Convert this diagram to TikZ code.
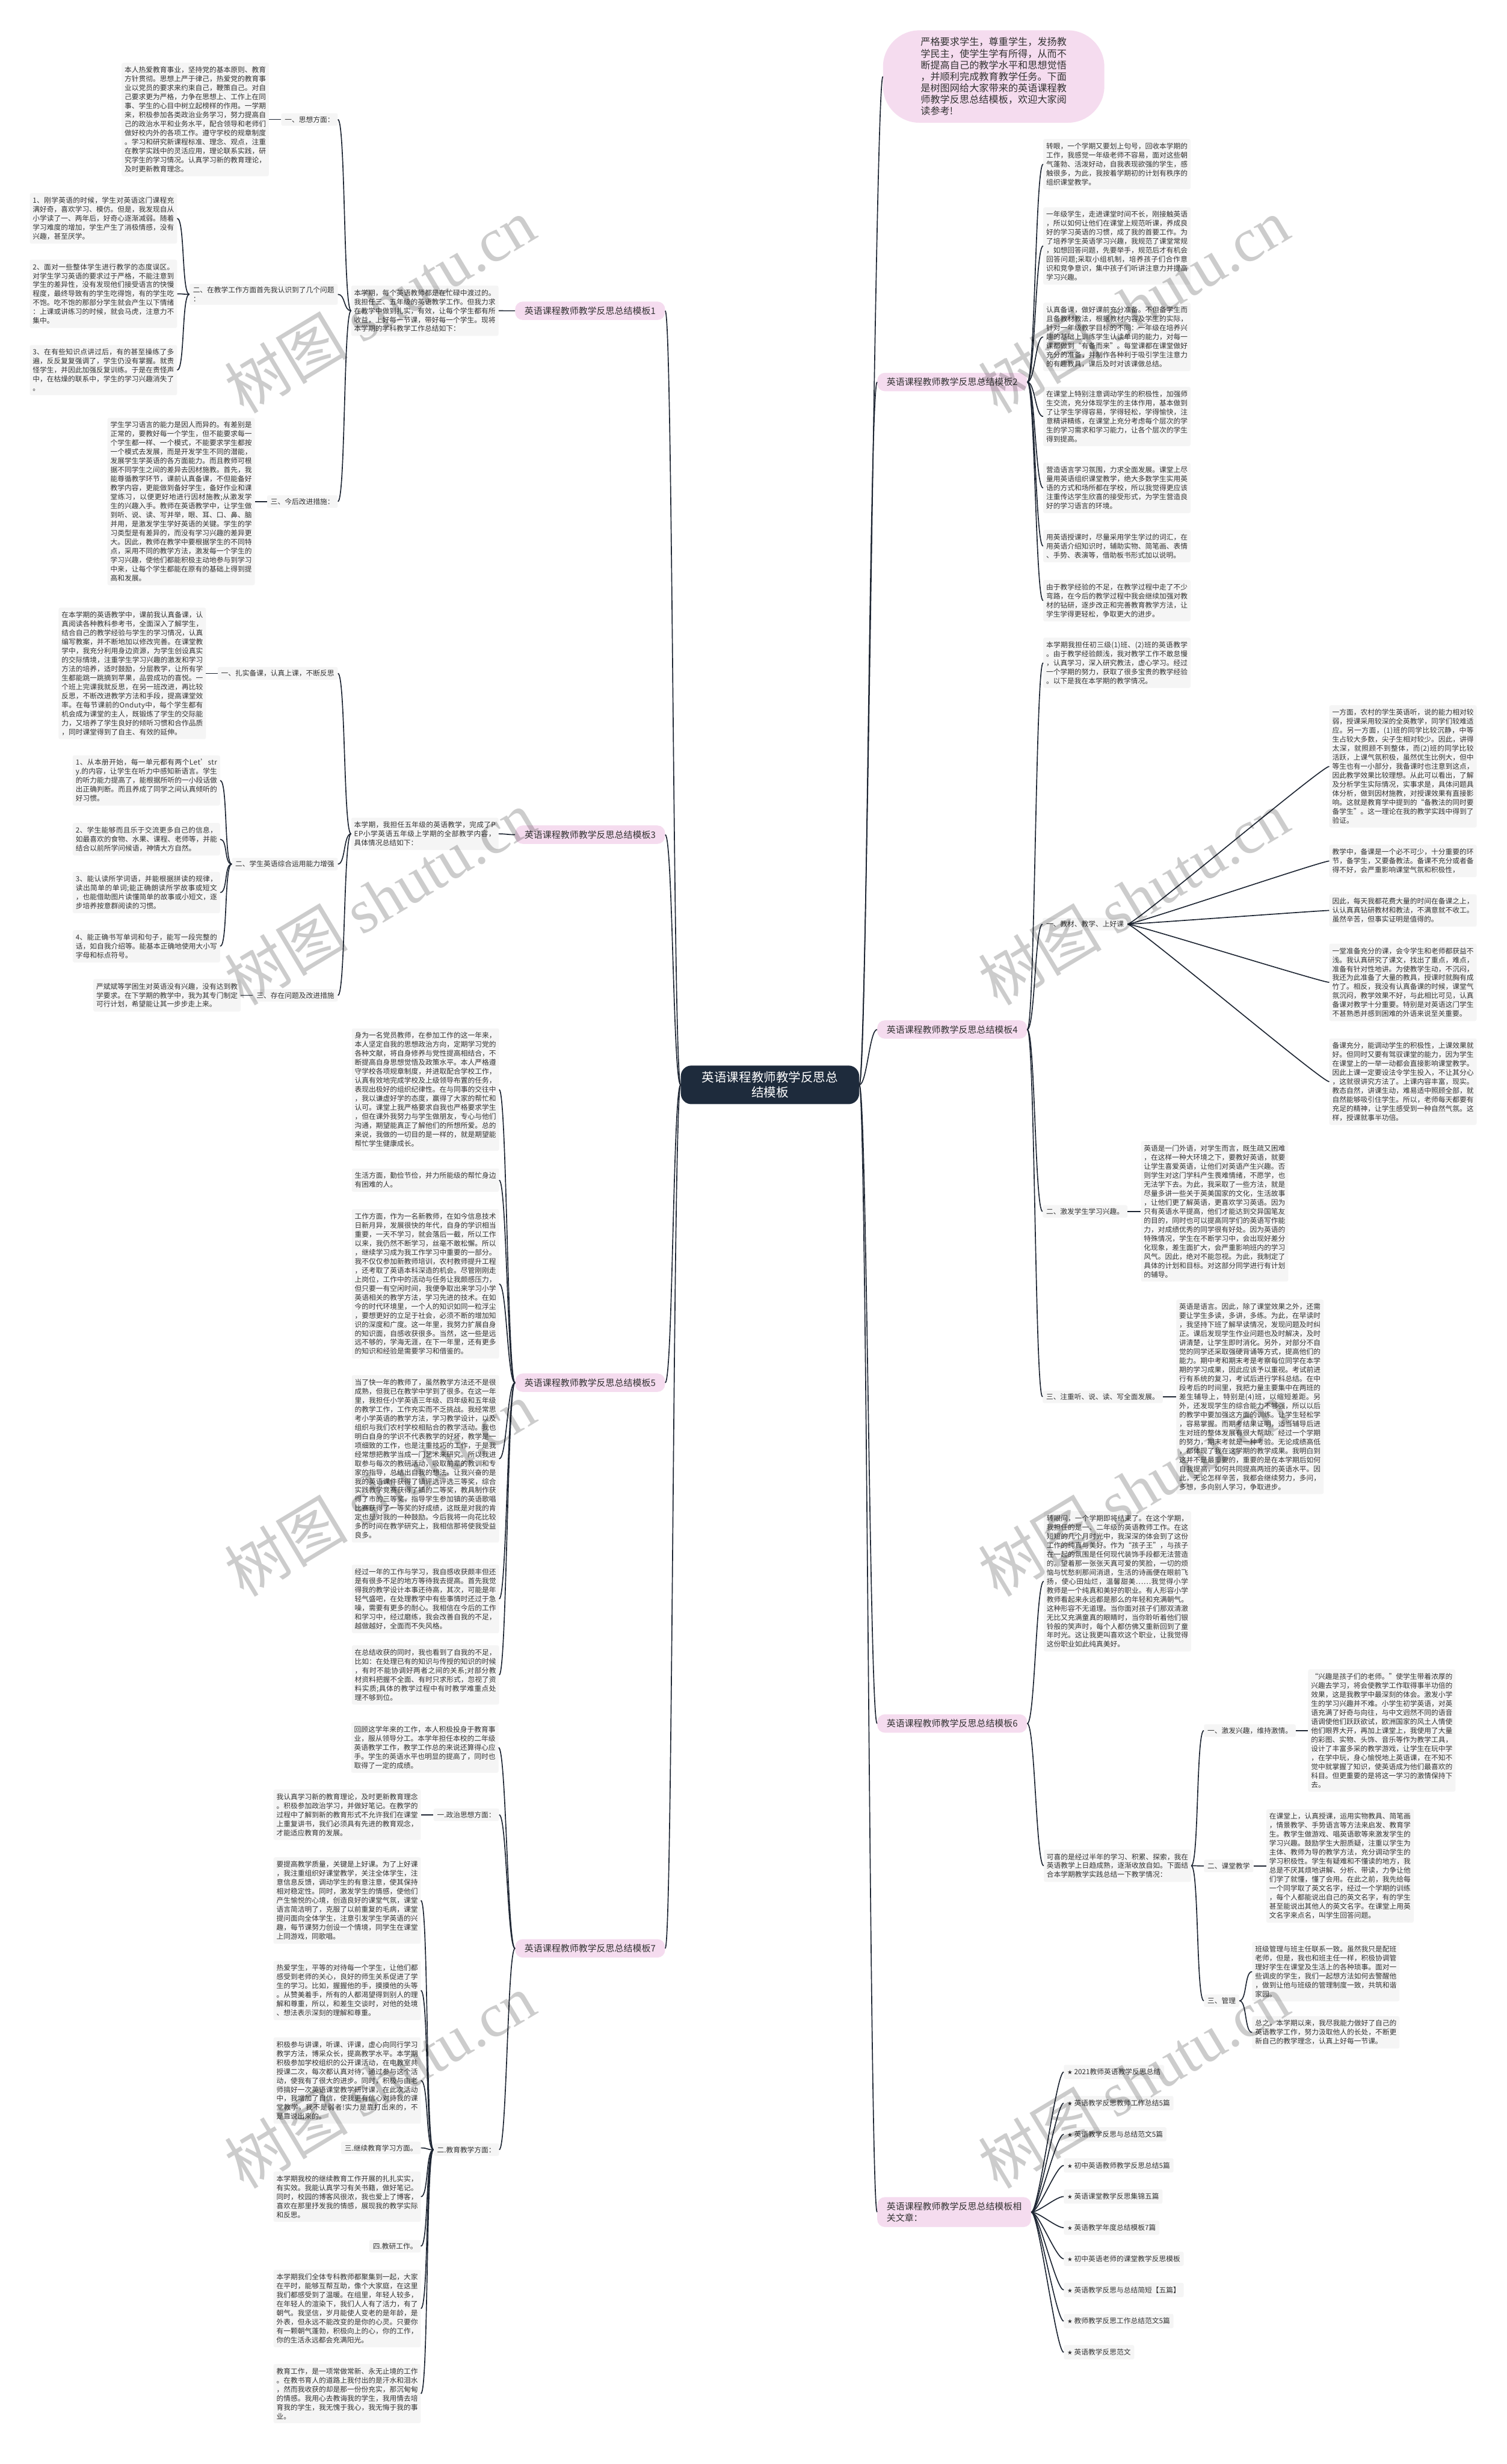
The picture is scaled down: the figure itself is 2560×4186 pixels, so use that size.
\documentclass[tikz,border=0pt]{standalone}
\usepackage{fontspec}
\setmainfont{Noto Sans CJK SC}
\newfontfamily\starfont{DejaVu Sans}
\newfontfamily\wmfont{Liberation Serif}

\definecolor{pinkfill}{HTML}{F5DCEF}
\definecolor{boxfill}{HTML}{F5F5F5}
\definecolor{inkline}{HTML}{1E2633}
\definecolor{navyfill}{HTML}{1E2B3C}
\definecolor{bodytext}{HTML}{333333}

% the reference breaks a line after any character, so allow a break everywhere
\def\chopend{chopend-marker}
\def\chop#1{\ifx\chopend#1\else#1\hskip0pt plus1pt\relax\expandafter\chop\fi}
\newcommand\para[1]{\chop#1\chopend}

\newcommand\joinleft[2]{\draw[linkline] (#1.west) .. controls +(-13,0) and +(13,0) .. (#2.east);}
\newcommand\joinright[2]{\draw[linkline] (#1.east) .. controls +(13,0) and +(-13,0) .. (#2.west);}

\begin{document}
\begin{tikzpicture}[
  x=1pt,y=-1pt,
  linkline/.style={draw=inkline,line width=1.7pt},
  rootbox/.style={fill=navyfill,text=white,rounded corners=18pt,align=center,
    inner xsep=36pt,inner ysep=10pt,font=\fontsize{21}{26}\selectfont},
  introbox/.style={fill=pinkfill,text=bodytext,rounded corners=62pt,text width=248pt,
    align=justify,inner xsep=64pt,inner ysep=12pt,font=\fontsize{16.5}{19.6}\selectfont},
  topicbox/.style={fill=pinkfill,text=bodytext,rounded corners=13pt,inner xsep=16pt,
    inner ysep=8.5pt,font=\fontsize{15.3}{19.6}\selectfont},
  headbox/.style={fill=boxfill,text=bodytext,rounded corners=3pt,align=left,
    inner xsep=6pt,inner ysep=5pt,font=\fontsize{12}{15.3}\selectfont},
  textblock/.style={fill=boxfill,text=bodytext,rounded corners=3pt,text width=240.2pt,
    align=justify,inner xsep=5pt,inner ysep=6.5pt,font=\fontsize{12}{15.3}\selectfont},
  listbox/.style={fill=boxfill,text=bodytext,rounded corners=3pt,inner xsep=6pt,
    inner ysep=6.5pt,font=\fontsize{12}{15.3}\selectfont},
  wmark/.style={rotate=31,text=black,opacity=0.2,font=\fontsize{105}{110}\selectfont}
]
\useasboundingbox (0,0) rectangle (2560,4186);
\fill[white] (0,0) rectangle (2560,4186);

\node[rootbox] (root) at (1308,1843) {英语课程教师教学反思总\\结模板};
\node[introbox] (intro) at (1688,130) {\para{严格要求学生，尊重学生，发扬教学民主，使学生学有所得，从而不断提高自己的教学水平和思想觉悟，并顺利完成教育教学任务。下面是树图网给大家带来的英语课程教师教学反思总结模板，欢迎大家阅读参考!}};

\node[topicbox,anchor=east] (t1) at (1130,528) {英语课程教师教学反思总结模板1};
\node[topicbox,anchor=east] (t3) at (1130,1418) {英语课程教师教学反思总结模板3};
\node[topicbox,anchor=east] (t5) at (1130,2349) {英语课程教师教学反思总结模板5};
\node[topicbox,anchor=east] (t7) at (1130,3310) {英语课程教师教学反思总结模板7};
\node[topicbox,anchor=west] (t2) at (1490,649) {英语课程教师教学反思总结模板2};
\node[topicbox,anchor=west] (t4) at (1490,1749) {英语课程教师教学反思总结模板4};
\node[topicbox,anchor=west] (t6) at (1490,2928) {英语课程教师教学反思总结模板6};
\node[topicbox,anchor=west,align=left] (rel) at (1490,3758) {英语课程教师教学反思总结模板相\\关文章：};

\foreach \t in {t1,t3,t5,t7} \joinleft{root}{\t};
\foreach \t in {intro,t2,t4,t6,rel} \joinright{root}{\t};

% ---- template 1
\node[textblock,anchor=north east] (p1) at (847,485) {\para{本学期，每个英语教师都是在忙碌中渡过的。我担任三、五年级的英语教学工作。但我力求在教学中做到扎实，有效，让每个学生都有所收益，上好每一节课，带好每一个学生。现将本学期的学科教学工作总结如下：}};
\node[headbox,anchor=east] (h1a) at (574,203) {一、思想方面：};
\node[headbox,anchor=east] (h1b) at (574,500) {二、在教学工作方面首先我认识到了几个问题\\：};
\node[headbox,anchor=east] (h1c) at (574,852) {三、今后改进措施：};
\node[textblock,anchor=east] (b1a) at (457,203) {\para{本人热爱教育事业，坚持党的基本原则、教育方针贯彻。思想上严于律己，热爱党的教育事业以党员的要求来约束自己，鞭策自己。对自己要求更为严格，力争在思想上、工作上在同事、学生的心目中树立起榜样的作用。一学期来，积极参加各类政治业务学习，努力提高自己的政治水平和业务水平，配合领导和老师们做好校内外的各项工作。遵守学校的规章制度。学习和研究新课程标准、理念、观点，注重在教学实践中的灵活应用，理论联系实践，研究学生的学习情况。认真学习新的教育理论，及时更新教育理念。}};
\node[textblock,anchor=north east] (b1b1) at (301,328) {\para{1、刚学英语的时候，学生对英语这门课程充满好奇，喜欢学习、模仿。但是，我发现自从小学读了一、两年后，好奇心逐渐减弱。随着学习难度的增加，学生产生了消极情感，没有兴趣，甚至厌学。}};
\node[textblock,anchor=north east] (b1b2) at (301,441) {\para{2、面对一些整体学生进行教学的态度误区。对学生学习英语的要求过于严格，不能注意到学生的差异性，没有发现他们接受语言的快慢程度，最终导致有的学生吃得饱，有的学生吃不饱。吃不饱的那部分学生就会产生以下情绪：上课或讲练习的时候，就会马虎，注意力不集中。}};
\node[textblock,anchor=north east] (b1b3) at (301,586) {\para{3、在有些知识点讲过后，有的甚至操练了多遍，反反复复强调了，学生仍没有掌握。就责怪学生，并因此加强反复训练。于是在责怪声中，在枯燥的联系中，学生的学习兴趣消失了。}};
\node[textblock,anchor=east] (b1c) at (433,852) {\para{学生学习语言的能力是因人而异的。有差别是正常的，要教好每一个学生，但不能要求每一个学生都一样、一个模式，不能要求学生都按一个模式去发展，而是开发学生不同的潜能，发展学生学英语的各方面能力。而且教师可根据不同学生之间的差异去因材施教。首先，我能尊循教学环节，课前认真备课，不但能备好教学内容，更能做到备好学生，备好作业和课堂练习，以便更好地进行因材施教;从激发学生的兴趣入手。教师在英语教学中，让学生做到听、说、读、写并举，眼、耳、口、鼻、脑并用，是激发学生学好英语的关键。学生的学习类型是有差异的，而没有学习兴趣的差异更大。因此，教师在教学中要根据学生的不同特点，采用不同的教学方法，激发每一个学生的学习兴趣，使他们都能积极主动地参与到学习中来，让每个学生都能在原有的基础上得到提高和发展。}};
\joinleft{t1}{p1}
\foreach \c in {h1a,h1b,h1c} \joinleft{p1}{\c};
\joinleft{h1a}{b1a}
\foreach \c in {b1b1,b1b2,b1b3} \joinleft{h1b}{\c};
\joinleft{h1c}{b1c}

% ---- template 3
\node[textblock,anchor=north east] (p3) at (847,1389) {\para{本学期，我担任五年级的英语教学，完成了PEP小学英语五年级上学期的全部教学内容，具体情况总结如下：}};
\node[headbox,anchor=east] (h3a) at (574,1144) {一、扎实备课，认真上课，不断反思};
\node[headbox,anchor=east] (h3b) at (574,1468) {二、学生英语综合运用能力增强};
\node[headbox,anchor=east] (h3c) at (574,1691) {三、存在问题及改进措施};
\node[textblock,anchor=east] (b3a) at (350,1144) {\para{在本学期的英语教学中，课前我认真备课，认真阅读各种教科参考书，全面深入了解学生，结合自己的教学经验与学生的学习情况，认真编写教案，并不断地加以修改完善。在课堂教学中，我充分利用身边资源，为学生创设真实的交际情境，注重学生学习兴趣的激发和学习方法的培养，适时鼓励，分层教学，让所有学生都能跳一跳摘到苹果，品尝成功的喜悦。一个班上完课我就反思，在另一班改进，再比较反思，不断改进教学方法和手段，提高课堂效率。在每节课前的Onduty中，每个学生都有机会成为课堂的主人，既锻炼了学生的交际能力，又培养了学生良好的倾听习惯和合作品质，同时课堂得到了自主、有效的延伸。}};
\node[textblock,anchor=north east] (b3b1) at (374,1283) {\para{1、从本册开始，每一单元都有两个Let’stry.的内容，让学生在听力中感知新语言。学生的听力能力提高了，能根据所听的一小段话做出正确判断。而且养成了同学之间认真倾听的好习惯。}};
\node[textblock,anchor=north east] (b3b2) at (374,1398) {\para{2、学生能够而且乐于交流更多自己的信息，如最喜欢的食物、水果、课程、老师等，并能结合以前所学问候语，神情大方自然。}};
\node[textblock,anchor=north east] (b3b3) at (374,1481) {\para{3、能认读所学词语，并能根据拼读的规律，读出简单的单词;能正确朗读所学故事或短文，也能借助图片读懂简单的故事或小短文，逐步培养按意群阅读的习惯。}};
\node[textblock,anchor=north east] (b3b4) at (374,1580) {\para{4、能正确书写单词和句子，能写一段完整的话，如自我介绍等。能基本正确地使用大小写字母和标点符号。}};
\node[textblock,anchor=east] (b3c) at (409,1691) {\para{严斌斌等学困生对英语没有兴趣，没有达到教学要求。在下学期的教学中，我为其专门制定可行计划，希望能让其一步步走上来。}};
\joinleft{t3}{p3}
\foreach \c in {h3a,h3b,h3c} \joinleft{p3}{\c};
\joinleft{h3a}{b3a}
\foreach \c in {b3b1,b3b2,b3b3,b3b4} \joinleft{h3b}{\c};
\joinleft{h3c}{b3c}

% ---- template 5
\node[textblock,anchor=north east] (b5a) at (848,1747) {\para{身为一名党员教师，在参加工作的这一年来，本人坚定自我的思想政治方向，定期学习党的各种文献，将自身修养与党性提高相结合，不断提高自身思想觉悟及政策水平。本人严格遵守学校各项规章制度，并进取配合学校工作，认真有效地完成学校及上级领导布置的任务，表现出极好的组织纪律性。在与同事的交往中，我以谦虚好学的态度，赢得了大家的帮忙和认可。课堂上我严格要求自我也严格要求学生，但在课外我努力与学生做朋友，专心与他们沟通，期望能真正了解他们的所想所爱。总的来说，我做的一切目的是一样的，就是期望能帮忙学生健康成长。}};
\node[textblock,anchor=north east] (b5b) at (848,1985) {\para{生活方面，勤俭节俭，并力所能级的帮忙身边有困难的人。}};
\node[textblock,anchor=north east] (b5c) at (848,2054) {\para{工作方面，作为一名新教师，在如今信息技术日新月异，发展很快的年代，自身的学识相当重要，一天不学习，就会落后一截，所以工作以来，我仍然不断学习，丝毫不敢松懈。所以，继续学习成为我工作学习中重要的一部分。我不仅仅参加新教师培训，农村教师提升工程，还考取了英语本科深造的机会。尽管刚刚走上岗位，工作中的活动与任务让我颇感压力，但只要一有空闲时间，我便争取出来学习小学英语相关的教学方法，学习先进的技术。在如今的时代环境里，一个人的知识如同一粒浮尘，要想更好的立足于社会，必须不断的增加知识的深度和广度。这一年里，我努力扩展自身的知识面，自感收获很多。当然，这一些是远远不够的，学海无涯，在下一年里，还有更多的知识和经验是需要学习和借鉴的。}};
\node[textblock,anchor=north east] (b5d) at (848,2336) {\para{当了快一年的教师了，虽然教学方法还不是很成熟，但我已在教学中学到了很多。在这一年里，我担任小学英语三年级、四年级和五年级的教学工作，工作充实而不乏挑战。我经常思考小学英语的教学方法，学习教学设计，以及组织与我们农村学校相贴合的教学活动。我也明白自身的学识不代表教学的好坏，教学是一项细致的工作，也是注重技巧的工作，于是我经常想把教学当成一门艺术来研究。所以我进取参与每次的教研活动，吸取前辈的教训和专家的指导，总结出自我的想法。让我兴奋的是我的英语课件获得了镇评选评选三等奖，综合实践教学竞赛获得了镇的二等奖，教具制作获得了市的三等奖，指导学生参加镇的英语歌唱比赛获得了一等奖的好成绩，这既是对我的肯定也是对我的一种鼓励。今后我将一向花比较多的时间在教学研究上，我相信那将使我受益良多。}};
\node[textblock,anchor=north east] (b5e) at (848,2658) {\para{经过一年的工作与学习，我自感收获颇丰但还是有很多不足的地方等待我去提高。首先我觉得我的教学设计本事还待高，其次，可能是年轻气盛吧，在处理教学中有些事情时还过于急噪，需要有更多的耐心。我相信在今后的工作和学习中，经过磨练，我会改善自我的不足，越做越好，全面而不失风格。}};
\node[textblock,anchor=north east] (b5f) at (848,2795) {\para{在总结收获的同时，我也看到了自我的不足，比如：在处理已有的知识与传授的知识的时候，有时不能协调好两者之间的关系;对部分教材资料把握不全面、有时只求形式，忽视了资料实质;具体的教学过程中有时教学难重点处理不够到位。}};
\foreach \c in {b5a,b5b,b5c,b5d,b5e,b5f} \joinleft{t5}{\c};

% ---- template 7
\node[textblock,anchor=north east] (p7) at (847,2926) {\para{回顾这学年来的工作，本人积极投身于教育事业，服从领导分工。本学年担任本校的二年级英语教学工作，教学工作总的来说还算得心应手。学生的英语水平也明显的提高了，同时也取得了一定的成绩。}};
\node[headbox,anchor=east] (h7a) at (848,3083) {一.政治思想方面：};
\node[headbox,anchor=east] (h7b) at (848,3652) {二.教育教学方面：};
\node[textblock,anchor=east] (b7a) at (715,3083) {\para{我认真学习新的教育理论，及时更新教育理念。积极参加政治学习，并做好笔记。在教学的过程中了解到新的教育形式不允许我们在课堂上重复讲书，我们必须具有先进的教育观念，才能适应教育的发展。}};
\node[textblock,anchor=north east] (b7b) at (715,3155) {\para{要提高教学质量，关键是上好课。为了上好课，我注重组织好课堂教学，关注全体学生，注意信息反馈，调动学生的有意注意，使其保持相对稳定性。同时，激发学生的情感，使他们产生愉悦的心境，创造良好的课堂气氛，课堂语言简洁明了，克服了以前重复的毛病，课堂提问面向全体学生，注意引发学生学英语的兴趣，每节课努力创设一个情境，同学生在课堂上同游戏，同歌唱。}};
\node[textblock,anchor=north east] (b7c) at (715,3331) {\para{热爱学生，平等的对待每一个学生，让他们都感受到老师的关心，良好的师生关系促进了学生的学习。比如，握握他的手，摸摸他的头等。从赞美着手，所有的人都渴望得到别人的理解和尊重，所以，和差生交谈时，对他的处境、想法表示深刻的理解和尊重。}};
\node[textblock,anchor=north east] (b7d) at (715,3461) {\para{积极参与讲课，听课、评课，虚心向同行学习教学方法，博采众长，提高教学水平。本学期积极参加学校组织的公开课活动，在电教室共授课二次，每次都认真对待，通过参与这个活动，使我有了很大的进步。同时，积极与由老师搞好一次英语课堂教学研讨课，在此次活动中，我增加了自信，使我更有信心对待我的课堂教学，我不是弱者!实力是靠打出来的，不是靠说出来的。}};
\node[headbox,anchor=east] (h7c) at (715,3649) {三.继续教育学习方面。};
\node[textblock,anchor=north east] (b7e) at (715,3689) {\para{本学期我校的继续教育工作开展的扎扎实实，有实效。我能认真学习有关书籍，做好笔记。同时，校园的博客风很浓，我也爱上了博客，喜欢在那里抒发我的情感，展现我的教学实际和反思。}};
\node[headbox,anchor=east] (h7d) at (715,3816) {四.教研工作。};
\node[textblock,anchor=north east] (b7f) at (715,3856) {\para{本学期我们全体专科教师都聚集到一起，大家在平时，能够互帮互助，像个大家庭，在这里我们都感受到了温暖。在组里，年轻人较多，在年轻人的渲染下，我们人人有了活力，有了朝气。我坚信，岁月能使人变老的是年龄，是外表，但永远不能改变的是你的心灵。只要你有一颗朝气蓬勃，积极向上的心，你的工作，你的生活永远都会充满阳光。}};
\node[textblock,anchor=north east] (b7g) at (715,4016) {\para{教育工作，是一项常做常新、永无止境的工作。在教书育人的道路上我付出的是汗水和泪水，然而我收获的却是那一份份充实，那沉甸甸的情感。我用心去教诲我的学生，我用情去培育我的学生，我无愧于我心，我无悔于我的事业。}};
\foreach \c in {p7,h7a,h7b} \joinleft{t7}{\c};
\joinleft{h7a}{b7a}
\foreach \c in {b7b,b7c,b7d,h7c,b7e,h7d,b7f,b7g} \joinleft{h7b}{\c};

% ---- template 2
\node[textblock,anchor=north west] (b2a) at (1772,236) {\para{转眼，一个学期又要划上句号，回收本学期的工作，我感觉一年级老师不容易，面对这些朝气蓬勃、活泼好动，自我表现欲强的学生，感触很多，为此，我按着学期初的计划有秩序的组织课堂教学。}};
\node[textblock,anchor=north west] (b2b) at (1772,352) {\para{一年级学生，走进课堂时间不长，刚接触英语，所以如何让他们在课堂上规范听课，养成良好的学习英语的习惯，成了我的首要工作。为了培养学生英语学习兴趣，我规范了课堂常规，如想回答问题，先要举手，规范后才有机会回答问题;采取小组机制，培养孩子们合作意识和竞争意识，集中孩子们听讲注意力并提高学习兴趣。}};
\node[textblock,anchor=north west] (b2c) at (1772,514) {\para{认真备课，做好课前充分准备。不但备学生而且备教材教法，根据教材内容及学生的实际，针对一年级教学目标的不同：一年级在培养兴趣的基础上训练学生认读单词的能力，对每一课都做到“有备而来”。每堂课都在课堂做好充分的准备，并制作各种利于吸引学生注意力的有趣教具，课后及时对该课做总结。}};
\node[textblock,anchor=north west] (b2d) at (1772,657) {\para{在课堂上特别注意调动学生的积极性，加强师生交流，充分体现学生的主体作用，基本做到了让学生学得容易，学得轻松，学得愉快，注意精讲精练，在课堂上充分考虑每个层次的学生的学习需求和学习能力，让各个层次的学生得到提高。}};
\node[textblock,anchor=north west] (b2e) at (1772,786) {\para{营造语言学习氛围，力求全面发展。课堂上尽量用英语组织课堂教学，绝大多数学生实用英语的方式和场所都在学校，所以我觉得更应该注重传达学生欣喜的接受形式，为学生营造良好的学习语言的环境。}};
\node[textblock,anchor=north west] (b2f) at (1772,900) {\para{用英语授课时，尽量采用学生学过的词汇，在用英语介绍知识时，辅助实物、简笔画、表情、手势、表演等，借助板书形式加以说明。}};
\node[textblock,anchor=north west] (b2g) at (1772,985) {\para{由于教学经验的不足，在教学过程中走了不少弯路，在今后的教学过程中我会继续加强对教材的钻研，逐步改正和完善教育教学方法，让学生学得更轻松，争取更大的进步。}};
\foreach \c in {b2a,b2b,b2c,b2d,b2e,b2f,b2g} \joinright{t2}{\c};

% ---- template 4
\node[textblock,anchor=north west] (p4) at (1772,1083) {\para{本学期我担任初三级(1)班、(2)班的英语教学。由于教学经验颇浅，我对教学工作不敢怠慢，认真学习，深入研究教法，虚心学习。经过一个学期的努力，获取了很多宝贵的教学经验。以下是我在本学期的教学情况。}};
\node[headbox,anchor=west] (h4a) at (1771,1570) {一、教材、教学、上好课};
\node[headbox,anchor=west] (h4b) at (1771,2058) {二、激发学生学习兴趣。};
\node[headbox,anchor=west] (h4c) at (1771,2373) {三、注重听、说、读、写全面发展。};
\node[textblock,anchor=north west] (b4a1) at (2258,1198) {\para{一方面，农村的学生英语听，说的能力相对较弱，授课采用较深的全英教学，同学们较难适应。另一方面，(1)班的同学比较沉静，中等生占较大多数，尖子生相对较少。因此，讲得太深，就照顾不到整体，而(2)班的同学比较活跃，上课气氛积极，虽然优生比例大，但中等生也有一小部分，我备课时也注意到这点，因此教学效果比较理想。从此可以看出，了解及分析学生实际情况，实事求是，具体问题具体分析，做到因材施教，对授课效果有直接影响。这就是教育学中提到的“备教法的同时要备学生”。这一理论在我的教学实践中得到了验证。}};
\node[textblock,anchor=north west] (b4a2) at (2258,1435) {\para{教学中，备课是一个必不可少，十分重要的环节，备学生，又要备教法。备课不充分或者备得不好，会严重影响课堂气氛和积极性，}};
\node[textblock,anchor=north west] (b4a3) at (2258,1519) {\para{因此，每天我都花费大量的时间在备课之上，认认真真钻研教材和教法，不满意就不收工。虽然辛苦，但事实证明是值得的。}};
\node[textblock,anchor=north west] (b4a4) at (2258,1603) {\para{一堂准备充分的课，会令学生和老师都获益不浅。我认真研究了课文，找出了重点，难点，准备有针对性地讲。为使教学生动，不沉闷，我还为此准备了大量的教具，授课时就胸有成竹了。相反，我没有认真备课的时候，课堂气氛沉闷，教学效果不好，与此相比可见，认真备课对教学十分重要。特别是对英语这门学生不甚熟悉并感到困难的外语来说至关重要。}};
\node[textblock,anchor=north west] (b4a5) at (2258,1764) {\para{备课充分，能调动学生的积极性，上课效果就好。但同时又要有驾驭课堂的能力，因为学生在课堂上的一举一动都会直接影响课堂教学。因此上课一定要设法令学生投入，不让其分心，这就很讲究方法了。上课内容丰富，现实。教态自然，讲课生动，难易适中照顾全部，就自然能够吸引住学生。所以，老师每天都要有充足的精神，让学生感受到一种自然气氛。这样，授课就事半功倍。}};
\node[textblock,anchor=west] (b4b) at (1938,2058) {\para{英语是一门外语，对学生而言，既生疏又困难，在这样一种大环境之下，要教好英语，就要让学生喜爱英语，让他们对英语产生兴趣。否则学生对这门学科产生畏难情绪，不愿学，也无法学下去。为此，我采取了一些方法，就是尽量多讲一些关于英美国家的文化，生活故事，让他们更了解英语，更喜欢学习英语。因为只有英语水平提高，他们才能达到交异国笔友的目的，同时也可以提高同学们的英语写作能力，对成绩优秀的同学很有好处。因为英语的特殊情况，学生在不断学习中，会出现好差分化现象，差生面扩大，会严重影响班内的学习风气。因此，绝对不能忽视。为此，我制定了具体的计划和目标。对这部分同学进行有计划的辅导。}};
\node[textblock,anchor=west] (b4c) at (1998,2373) {\para{英语是语言。因此，除了课堂效果之外，还需要让学生多读，多讲，多练。为此，在早读时，我坚持下班了解早读情况，发现问题及时纠正。课后发现学生作业问题也及时解决，及时讲清楚，让学生即时消化。另外，对部分不自觉的同学还采取强硬背诵等方式，提高他们的能力。期中考和期末考是考察每位同学在本学期的学习成果，因此应该予以重视。考试前进行有系统的复习，考试后进行学科总结。在中段考后的时间里，我把力量主要集中在两班的差生辅导上，特别是(4)班，以缩短差距。另外，还发现学生的综合能力不够强，所以以后的教学中要加强这方面的训练。让学生轻松学，容易掌握。而期考结果证明，适当辅导后进生对班的整体发展有很大帮助。经过一个学期的努力，期末考就是一种考验。无论成绩高低，都体现了我在这学期的教学成果。我明白到这并不是最重要的，重要的是在本学期后如何自我提高，如何共同提高两班的英语水平。因此，无论怎样辛苦，我都会继续努力，多问，多想，多向别人学习，争取进步。}};
\foreach \c in {p4,h4a,h4b,h4c} \joinright{t4}{\c};
\foreach \c in {b4a1,b4a2,b4a3,b4a4,b4a5} \joinright{h4a}{\c};
\joinright{h4b}{b4b}
\joinright{h4c}{b4c}

% ---- template 6
\node[textblock,anchor=north west] (p6a) at (1773,2567) {\para{转眼间，一个学期即将结束了。在这个学期，我担任的是一、二年级的英语教师工作。在这短短的几个月时光中，我深深的体会到了这份工作的纯真与美好。作为“孩子王”，与孩子在一起的氛围是任何现代装饰手段都无法营造的。望着那一张张天真可爱的笑脸，一切的烦恼与忧愁刹那间消退，生活的诗画便在眼前飞扬，使心田灿烂，温馨甜美……我觉得小学教师是一个纯真和美好的职业。有人形容小学教师看起来永远都是那么的年轻和充满朝气。这种形容不无道理。当你面对孩子们那双清澈无比又充满童真的眼睛时，当你聆听着他们银铃般的笑声时，每个人都仿佛又重新回到了童年时光。这让我更叫喜欢这个职业，让我觉得这份职业如此纯真美好。}};
\node[textblock,anchor=north west] (p6b) at (1773,3142) {\para{可喜的是经过半年的学习、积累、探索，我在英语教学上日趋成熟，逐渐收放自如。下面结合本学期教学实践总结一下教学情况：}};
\node[headbox,anchor=west] (h6a) at (2045,2940) {一、激发兴趣，维持激情。};
\node[headbox,anchor=west] (h6b) at (2045,3170) {二、课堂教学};
\node[headbox,anchor=west] (h6c) at (2045,3399) {三、管理};
\node[textblock,anchor=west] (b6a) at (2222,2940) {\para{“兴趣是孩子们的老师。”使学生带着浓厚的兴趣去学习，将会使教学工作取得事半功倍的效果，这是我教学中最深刻的体会。激发小学生的学习兴趣并不难。小学生初学英语，对英语充满了好奇与向往，与中文迥然不同的语音语调使他们跃跃欲试，欧洲国家的风土人情使他们眼界大开，再加上课堂上，我使用了大量的彩图、实物、头饰、音乐等作为教学工具，设计了丰富多采的教学游戏，让学生在玩中学，在学中玩，身心愉悦地上英语课，在不知不觉中就掌握了知识，使英语成为他们最喜欢的科目。但更重要的是将这一学习的激情保持下去。}};
\node[textblock,anchor=west] (b6b) at (2151,3170) {\para{在课堂上，认真授课，运用实物教具、简笔画，情景教学、手势语言等方法来启发、教育学生。教学生做游戏、唱英语歌等来激发学生的学习兴趣。鼓励学生大胆质疑，注重以学生为主体、教师为导的教学方法，充分调动学生的学习积极性。学生有疑难和不懂读的地方，我总是不厌其烦地讲解、分析、带读，力争让他们学了就懂，懂了会用。在此之前，我先给每一个同学取了英文名字，经过一个学期的训练，每个人都能说出自己的英文名字，有的学生甚至能说出其他人的英文名字。在课堂上用英文名字来点名，叫学生回答问题。}};
\node[textblock,anchor=north west] (b6c1) at (2127,3299) {\para{班级管理与班主任联系一致。虽然我只是配班老师，但是，我也和班主任一样，积极协调管理好学生在课堂及生活上的各种琐事。面对一些调皮的学生，我们一起想方法如何去警醒他，做到让他与班级的管理制度一致，共筑和谐家园。}};
\node[textblock,anchor=north west] (b6c2) at (2127,3425) {\para{总之，本学期以来，我尽我能力做好了自己的英语教学工作，努力汲取他人的长处，不断更新自己的教学理念，认真上好每一节课。}};
\foreach \c in {p6a,p6b} \joinright{t6}{\c};
\foreach \c in {h6a,h6b,h6c} \joinright{p6b}{\c};
\joinright{h6a}{b6a}
\joinright{h6b}{b6b}
\foreach \c in {b6c1,b6c2} \joinright{h6c}{\c};

% ---- related articles
\foreach \title [count=\i] in {2021教师英语教学反思总结,英语教学反思教师工作总结5篇,英语教学反思与总结范文5篇,初中英语教师教学反思总结5篇,英语课堂教学反思集锦五篇,英语教学年度总结模板7篇,初中英语老师的课堂教学反思模板,英语教学反思与总结简短【五篇】,教师教学反思工作总结范文5篇,英语教学反思范文}{
  \node[listbox,anchor=west] (art\i) at (1807,3520+52.9*\i-52.9) {{\starfont\fontsize{10}{12}\selectfont ★} \title};
  \joinright{rel}{art\i}
}

% watermark
\foreach \wx/\wy [count=\i] in {645/519,1926/519,645/1525,1926/1525,645/2530,1926/2530,645/3535,1926/3535}
  \node[wmark] (wm\i) at (\wx,\wy) {树图 {\wmfont shutu.cn}};
\end{tikzpicture}
\end{document}
